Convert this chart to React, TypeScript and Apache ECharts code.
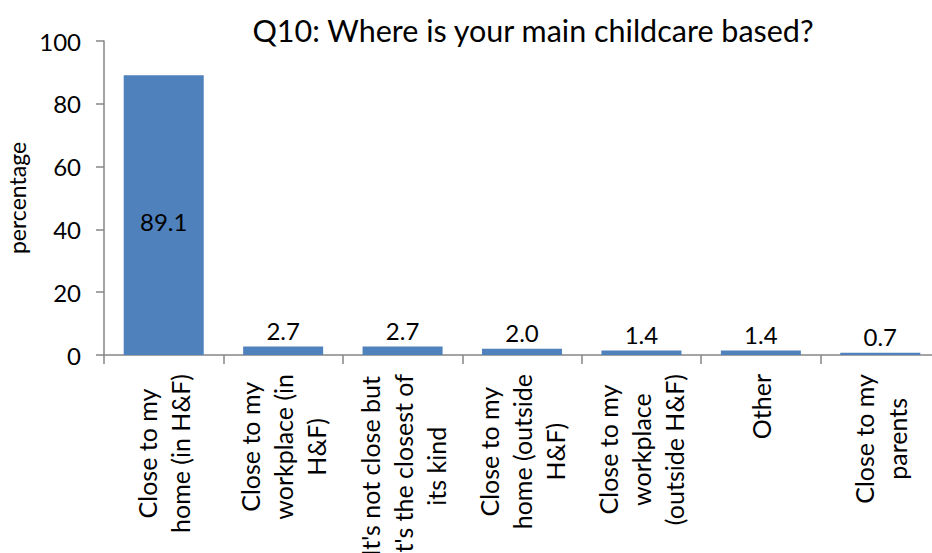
import React, { useEffect, useRef } from "react";
import * as echarts from "echarts";

const title = "Q10: Where is your main childcare based?";
const yAxisName = "percentage";
const categories = [
  "Close to my\nhome (in H&F)",
  "Close to my\nworkplace (in\nH&F)",
  "It's not close but\nit's the closest of\nits kind",
  "Close to my\nhome (outside\nH&F)",
  "Close to my\nworkplace\n(outside H&F)",
  "Other",
  "Close to my\nparents",
];
const values = [89.1, 2.7, 2.7, 2.0, 1.4, 1.4, 0.7];
const yMin = 0;
const yMax = 100;
const yStep = 20;

const FONT = "Lato";

export default function App() {
  const ref = useRef<HTMLDivElement>(null);
  useEffect(() => {
    if (!ref.current) return;
    const chart = echarts.init(ref.current, undefined, { renderer: "svg" });
    chart.setOption({
      animation: false,
      backgroundColor: "#ffffff",
      title: {
        text: title,
        left: 528,
        top: 9,
        textAlign: "center",
        textStyle: { fontFamily: FONT, fontSize: 30.5, fontWeight: "normal", color: "#000" },
      },
      grid: {
        left: 104,
        top: 41,
        right: -8,
        bottom: 198,
        containLabel: false,
        outerBoundsMode: "none",
      },
      xAxis: {
        type: "category",
        data: categories,
        axisLine: { lineStyle: { color: "#868686", width: 1.5 } },
        axisTick: { show: true, length: 9, lineStyle: { color: "#868686", width: 1.5 } },
        axisLabel: {
          interval: 0,
          rotate: 90,
          margin: 19,
          formatter: (v: string) =>
            v.split("\n").map((l) => "{c|" + l + "}").join("\n"),
          rich: {
            c: { align: "center", fontFamily: FONT, fontSize: 25, lineHeight: 33, color: "#000" },
          },
        },
      },
      yAxis: {
        type: "value",
        min: yMin,
        max: yMax,
        interval: yStep,
        name: yAxisName,
        nameLocation: "middle",
        nameRotate: 90,
        nameGap: 74,
        nameTextStyle: { fontFamily: FONT, fontSize: 23, color: "#000" },
        splitLine: { show: false },
        axisLine: { show: true, lineStyle: { color: "#868686", width: 1.5 } },
        axisTick: { show: true, length: 8, lineStyle: { color: "#868686", width: 1.5 } },
        axisLabel: { fontFamily: FONT, fontSize: 24, color: "#000", margin: 23 },
      },
      series: [
        {
          type: "bar",
          data: values.map((v, i) =>
            i === 0
              ? { value: v, label: { position: "inside", offset: [0, 6] } }
              : { value: v }
          ),
          barCategoryGap: "33%",
          itemStyle: { color: "#4F81BD" },
          label: {
            show: true,
            position: "top",
            distance: 4,
            formatter: (p: any) => Number(p.value).toFixed(1),
            fontFamily: FONT,
            fontSize: 24,
            color: "#000",
          },
        },
      ],
    });
    return () => chart.dispose();
  }, []);
  return (
    <div
      ref={ref}
      style={{ position: "fixed", left: 0, top: 0, width: 932, height: 553, background: "#fff" }}
    />
  );
}
